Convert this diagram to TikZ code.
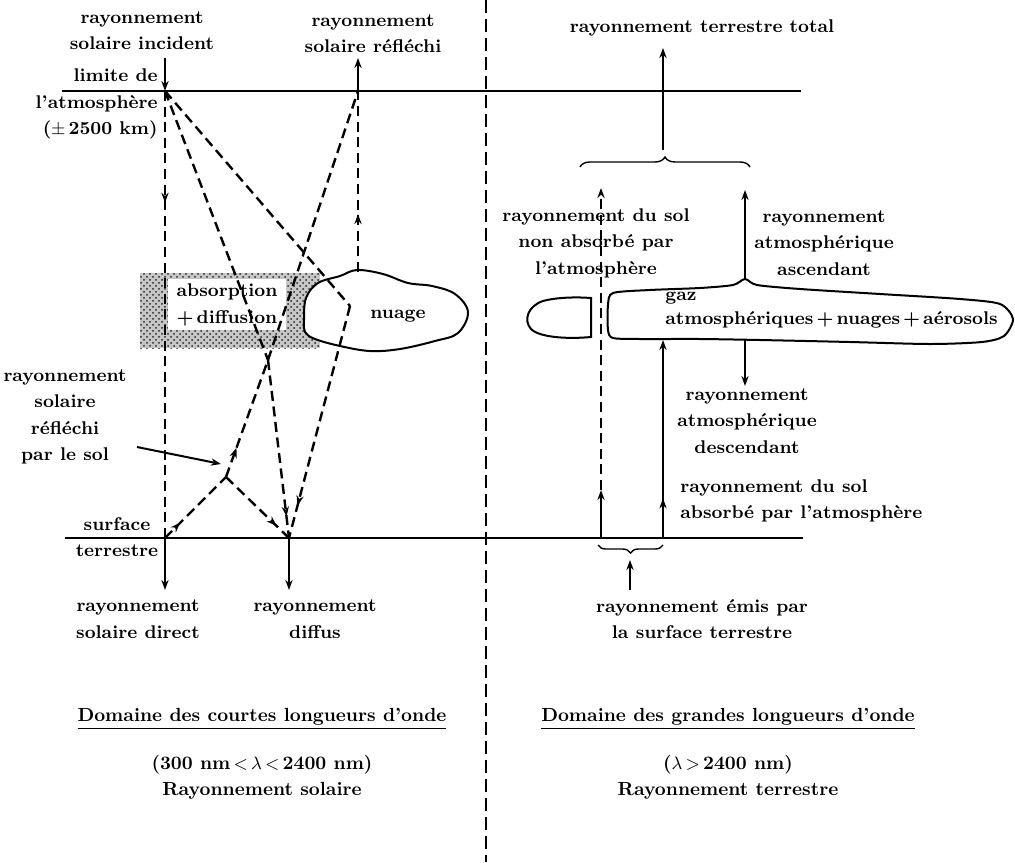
\documentclass[tikz,border=0pt]{standalone}
\usetikzlibrary{arrows.meta,decorations.markings,decorations.pathreplacing,patterns}
\begin{document}
\begin{tikzpicture}[x=0.5pt,y=-0.5pt,
  txt/.style={font=\fontsize{9.2}{13.2}\selectfont\bfseries, align=center, inner sep=0pt},
  bigtxt/.style={font=\fontsize{9.5}{13.2}\selectfont\bfseries, align=center, inner sep=0pt},
  ln/.style={line width=1pt},
  dsh/.style={line width=1.2pt, dash pattern=on 5pt off 2.8pt},
  tip/.style={-{Stealth[length=5pt,width=3.6pt]}},
  midarrow/.style={postaction={decorate}, decoration={markings, mark=at position #1 with {\arrow{Stealth[length=5pt,width=3.6pt]}}}},
  bracelook/.style={line width=0.7pt, decorate},
]
\useasboundingbox (0,0) rectangle (1015,862);

% ---------- key points ----------
\coordinate (T) at (165,91);
\coordinate (R) at (358,91);
\coordinate (inTop) at (165,58);
\coordinate (reflTop) at (358,58);
\coordinate (S) at (165,538);
\coordinate (D) at (289,538);
\coordinate (P) at (268,360);
\coordinate (Q) at (226,477);
\coordinate (C) at (350,306);
\coordinate (Ctop) at (358,272);
\coordinate (dirEnd) at (165,590);
\coordinate (difEnd) at (289,590);
\coordinate (solArrStart) at (137,447);
\coordinate (solArrEnd) at (221,464);

\coordinate (atmL) at (62,91);
\coordinate (atmR) at (801,91);
\coordinate (surL) at (65,538);
\coordinate (surR) at (803,538);
\coordinate (divtop) at (486,0);
\coordinate (divbot) at (486,862);

% right side points
\coordinate (totBase) at (663,150);
\coordinate (totTop) at (663,48);
\coordinate (braceL) at (580,167);
\coordinate (braceR) at (750,167);
\coordinate (g1) at (601,538);
\coordinate (g1m) at (601,490);
\coordinate (g1top) at (601,188);
\coordinate (ascBase) at (745,279);
\coordinate (ascTop) at (745,190);
\coordinate (descBase) at (745,339);
\coordinate (descEnd) at (745,386);
\coordinate (g2) at (663,538);
\coordinate (g2top) at (663,340);
\coordinate (bbL) at (598,545);
\coordinate (bbR) at (663,545);
\coordinate (emisBase) at (630,590);
\coordinate (emisTop) at (630,560);

% ---------- divider ----------
\draw[line width=0.8pt, dash pattern=on 6.5pt off 3pt] (divtop) -- (divbot);

% ---------- absorption box ----------
\fill[black!22] (140,273) rectangle (320,348);
\fill[pattern=crosshatch dots, pattern color=black!85] (140,273) rectangle (320,348);
\fill[white] (168,279) rectangle (286,330);
\node[txt] (absn) at (227,305) {absorption\\+\,diffusion};

% ---------- cloud (left) ----------
\draw[ln, fill=white] plot[smooth cycle, tension=0.6] coordinates {
 (304,320) (306,298) (318,283) (340,276) (357,270) (383,274) (408,283) (432,286)
 (455,294) (468,312) (458,333) (435,341) (400,349) (370,351) (340,346) (315,339) (305,332)};
\node[txt] (nuage) at (398,316) {nuage};

% ---------- horizontal lines ----------
\draw[ln] (atmL) -- (atmR);
\draw[ln] (surL) -- (surR);

% ---------- left: labels ----------
\node[txt] (inc) at (142,31) {rayonnement\\solaire incident};
\node[txt] (refl) at (373,34) {rayonnement\\solaire réfléchi};
\node[txt, anchor=east, align=right] (lim) at (158,104) {limite de\\l'atmosphère\\($\pm$\,2500 km)};
\node[txt] (lsol) at (65,417) {rayonnement\\solaire\\réfléchi\\par le sol};
\node[txt] (lsurf) at (117,537) {surface\\terrestre};
\node[txt] (ldir) at (138,619) {rayonnement\\solaire direct};
\node[txt] (ldif) at (315,619) {rayonnement\\diffus};

% ---------- left: rays ----------
\draw[ln,tip] (inTop) -- (T);
\draw[ln,tip] (R) -- (reflTop);
\draw[dsh, midarrow=0.25] (T) -- (S);
\draw[dsh] (T) -- (P);
\draw[dsh] (T) -- (C);
\draw[dsh] (P) -- (R);
\draw[dsh, midarrow=0.32] (Ctop) -- (R);
\draw[dsh, midarrow=0.86] (C) -- (D);
\draw[dsh, midarrow=0.88] (P) -- (D);
\draw[dsh, midarrow=0.25] (S) -- (Q);
\draw[dsh, midarrow=0.25] (Q) -- (P);
\draw[dsh, midarrow=0.8] (Q) -- (D);
\draw[ln,tip] (S) -- (dirEnd);
\draw[ln,tip] (D) -- (difEnd);
\draw[ln,tip] (solArrStart) -- (solArrEnd);

% ---------- right: clouds ----------
\draw[ln, fill=white] (591,298) -- (591,337) .. controls (570,339) and (540,338) .. (531,329)
  .. controls (523,320) and (528,306) .. (543,301) .. controls (558,297) and (578,297) .. (591,298) -- cycle;
\draw[ln, fill=white] plot[smooth cycle, tension=0.45] coordinates {
 (608,305) (613,293) (650,290) (700,288) (733,285) (745,279) (757,285) (800,289) (880,294)
 (960,299) (1000,304) (1013,319) (1004,336) (982,342) (930,344) (850,342) (760,340)
 (700,339) (640,339) (613,338) (608,330)};
\node[txt, anchor=west] (gaz) at (665,298) {gaz};
\node[txt, anchor=west] (atmo) at (665,320) {atmosphériques\,+\,nuages\,+\,aérosols};

% ---------- right: arrows ----------
\draw[ln,tip] (totBase) -- (totTop);
\draw[bracelook, decoration={brace, amplitude=5pt}] (braceL) -- (braceR);
\draw[ln,tip] (g1) -- (g1m);
\draw[dsh,tip] (g1m) -- (g1top);
\draw[ln,tip] (ascBase) -- (ascTop);
\draw[ln,tip] (descBase) -- (descEnd);
\draw[ln,tip,midarrow=0.2] (g2) -- (g2top);
\draw[bracelook, decoration={brace, amplitude=4pt, mirror}] (bbL) -- (bbR);
\draw[ln,tip] (emisBase) -- (emisTop);

% ---------- right: labels ----------
\node[txt] (total) at (702,28) {rayonnement terrestre total};
\node[txt] (nonabs) at (596,243) {rayonnement du sol\\non absorbé par\\l'atmosphère};
\node[txt] (ascl) at (824,243) {rayonnement\\atmosphérique\\ascendant};
\node[txt] (desc) at (747,421) {rayonnement\\atmosphérique\\descendant};
\node[txt, anchor=west, align=left] (absl) at (680,501) {rayonnement du sol\\absorbé par l'atmosphère};
\node[txt] (emis) at (702,619) {rayonnement émis par\\la surface terrestre};

% ---------- bottom ----------
\node[bigtxt] (dom1) at (262,719) {\underline{Domaine des courtes longueurs d'onde}};
\node[bigtxt] (wl1) at (262,777) {(300 nm\,$<$\,$\lambda$\,$<$\,2400 nm)\\Rayonnement solaire};
\node[bigtxt] (dom2) at (728,719) {\underline{Domaine des grandes longueurs d'onde}};
\node[bigtxt] (wl2) at (728,777) {($\lambda$\,$>$\,2400 nm)\\Rayonnement terrestre};
\end{tikzpicture}
\end{document}
